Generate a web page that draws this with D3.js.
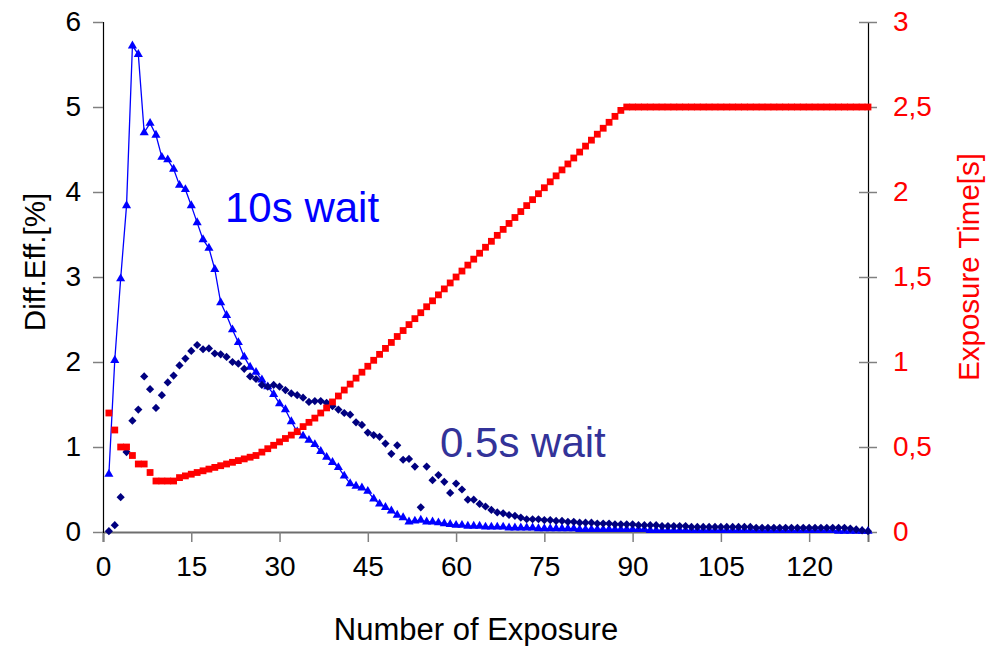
<!DOCTYPE html>
<html>
<head>
<meta charset="utf-8">
<script src="https://cdn.jsdelivr.net/npm/d3@7"></script>
<style>
  html, body { margin: 0; padding: 0; background: #fff; }
  svg { display: block; font-family: "Liberation Sans", Arial, sans-serif; }
</style>
</head>
<body>
<svg id="chart" width="987" height="646"></svg>
<script>
// ---------- DATA ----------
const exposureNumbers = d3.range(1, 131); // 1..130 exposures

const wait10s = [
  0.68, 2.02, 2.98, 3.84, 5.72, 5.62, 4.70, 4.81, 4.67, 4.41,
  4.38, 4.27, 4.08, 4.03, 3.84, 3.64, 3.44, 3.34, 3.09, 2.70,
  2.55, 2.38, 2.23, 2.06, 1.94, 1.88, 1.79, 1.71, 1.62, 1.51,
  1.44, 1.30, 1.18, 1.13, 1.08, 1.03, 0.95, 0.88, 0.82, 0.76,
  0.66, 0.57, 0.54, 0.52, 0.48, 0.39, 0.33, 0.29, 0.25, 0.20,
  0.17, 0.12, 0.13, 0.14, 0.12, 0.12, 0.11, 0.10, 0.09, 0.08,
  0.08, 0.07, 0.07, 0.07, 0.06, 0.06, 0.06, 0.06, 0.05, 0.05,
  0.05, 0.05, 0.05, 0.04, 0.04, 0.04, 0.04, 0.04, 0.04, 0.04,
  0.03, 0.03, 0.03, 0.03, 0.03, 0.03, 0.03, 0.03, 0.03, 0.03,
  0.03, 0.03, 0.02, 0.02, 0.02, 0.02, 0.02, 0.02, 0.02, 0.02,
  0.02, 0.02, 0.02, 0.02, 0.02, 0.02, 0.02, 0.02, 0.02, 0.02,
  0.02, 0.02, 0.02, 0.02, 0.02, 0.02, 0.02, 0.02, 0.02, 0.02,
  0.02, 0.02, 0.02, 0.02, 0.01, 0.01, 0.01, 0.01, 0.01, 0.01
];

const wait05s = [
  0.01, 0.08, 0.41, 0.94, 1.31, 1.44, 1.83, 1.68, 1.46, 1.61,
  1.76, 1.84, 1.96, 2.04, 2.13, 2.20, 2.15, 2.16, 2.10, 2.09,
  2.06, 2.00, 1.98, 1.92, 1.83, 1.80, 1.73, 1.71, 1.73, 1.71,
  1.67, 1.63, 1.61, 1.58, 1.53, 1.54, 1.54, 1.52, 1.48, 1.44,
  1.40, 1.38, 1.29, 1.26, 1.17, 1.14, 1.12, 1.04, 0.92, 1.02,
  0.85, 0.86, 0.77, 0.29, 0.77, 0.61, 0.67, 0.59, 0.46, 0.57,
  0.50, 0.38, 0.38, 0.33, 0.30, 0.26, 0.23, 0.22, 0.20, 0.19,
  0.17, 0.15, 0.15, 0.15, 0.14, 0.14, 0.13, 0.13, 0.12, 0.12,
  0.11, 0.11, 0.11, 0.10, 0.10, 0.10, 0.09, 0.09, 0.09, 0.09,
  0.08, 0.08, 0.08, 0.08, 0.07, 0.07, 0.07, 0.07, 0.07, 0.06,
  0.06, 0.06, 0.06, 0.06, 0.06, 0.06, 0.06, 0.06, 0.06, 0.06,
  0.05, 0.05, 0.05, 0.05, 0.05, 0.05, 0.05, 0.05, 0.05, 0.05,
  0.05, 0.05, 0.05, 0.05, 0.05, 0.05, 0.04, 0.03, 0.02, 0.01
];

const exposureTime = [
  0.70, 0.60, 0.50, 0.50, 0.45, 0.40, 0.40, 0.35, 0.30, 0.30,
  0.30, 0.30, 0.32, 0.33, 0.34, 0.35, 0.36, 0.37, 0.38, 0.39,
  0.40, 0.41, 0.42, 0.43, 0.44, 0.45, 0.47, 0.49, 0.51, 0.53,
  0.55, 0.57, 0.59, 0.62, 0.645, 0.67, 0.70, 0.73, 0.765, 0.80,
  0.835, 0.87, 0.905, 0.94, 0.975, 1.01, 1.045, 1.08, 1.115, 1.15,
  1.185, 1.22, 1.255, 1.29, 1.325, 1.36, 1.395, 1.43, 1.465, 1.50,
  1.535, 1.57, 1.605, 1.64, 1.675, 1.71, 1.745, 1.78, 1.815, 1.85,
  1.885, 1.92, 1.955, 1.99, 2.025, 2.06, 2.095, 2.13, 2.165, 2.20,
  2.235, 2.27, 2.305, 2.34, 2.375, 2.41, 2.445, 2.48, 2.50, 2.50,
  2.50, 2.50, 2.50, 2.50, 2.50, 2.50, 2.50, 2.50, 2.50, 2.50,
  2.50, 2.50, 2.50, 2.50, 2.50, 2.50, 2.50, 2.50, 2.50, 2.50,
  2.50, 2.50, 2.50, 2.50, 2.50, 2.50, 2.50, 2.50, 2.50, 2.50,
  2.50, 2.50, 2.50, 2.50, 2.50, 2.50, 2.50, 2.50, 2.50, 2.50
];

const xTicks = [0, 15, 30, 45, 60, 75, 90, 105, 120];
const yLeftTicks = [0, 1, 2, 3, 4, 5, 6];
const yRightTicks = [0, 0.5, 1, 1.5, 2, 2.5, 3];
const yRightTickLabels = ["0", "0,5", "1", "1,5", "2", "2,5", "3"];

// ---------- LAYOUT ----------
const svg = d3.select("#chart");
const plotLeft = 103, plotRight = 868, plotTop = 22, plotBottom = 532;

const x = d3.scaleLinear().domain([0, 130]).range([plotLeft, plotRight]);
const yL = d3.scaleLinear().domain([0, 6]).range([plotBottom, plotTop]);
const yR = d3.scaleLinear().domain([0, 3]).range([plotBottom, plotTop]);

const fontSize = 28;
const FONT = "Liberation Sans, Arial, sans-serif";

// X axis
const xAxis = d3.axisBottom(x).tickValues(xTicks).tickSize(10).tickPadding(14).tickFormat(d3.format("d"));
const gx = svg.append("g").attr("transform", `translate(0,${plotBottom})`).call(xAxis);
gx.select(".domain").attr("stroke", "#6e6e6e").attr("stroke-width", 2);
gx.selectAll(".tick line").attr("stroke", "#808080").attr("stroke-width", 1.5);
gx.selectAll(".tick text").attr("font-size", fontSize).attr("fill", "#000").attr("font-family", FONT);

// Left Y axis
const yAxisL = d3.axisLeft(yL).tickValues(yLeftTicks).tickSize(10).tickPadding(12).tickFormat(d3.format("d"));
const gyl = svg.append("g").attr("transform", `translate(${plotLeft},0)`).call(yAxisL);
gyl.select(".domain").attr("stroke", "#000").attr("stroke-width", 1.2);
gyl.selectAll(".tick line").attr("stroke", "#808080").attr("stroke-width", 1.5);
gyl.selectAll(".tick text").attr("font-size", fontSize).attr("fill", "#000").attr("font-family", FONT);

// Right Y axis (ticks cross the axis line)
const yAxisR = d3.axisRight(yR).tickValues(yRightTicks).tickSize(9).tickPadding(16)
  .tickFormat((d, i) => yRightTickLabels[i]);
const gyr = svg.append("g").attr("transform", `translate(${plotRight},0)`).call(yAxisR);
gyr.select(".domain").attr("stroke", "#000").attr("stroke-width", 1.2);
gyr.selectAll(".tick line").attr("x1", -9).attr("stroke", "#808080").attr("stroke-width", 1.5);
gyr.selectAll(".tick text").attr("font-size", fontSize).attr("fill", "#ff0000").attr("font-family", FONT);

// Axis titles
svg.append("text")
  .attr("transform", `translate(34,262) rotate(-90)`)
  .attr("text-anchor", "middle").attr("dominant-baseline", "central")
  .attr("font-size", 29.5).attr("fill", "#000").text("Diff.Eff.[%]");

svg.append("text")
  .attr("transform", `translate(968,267) rotate(-90)`)
  .attr("text-anchor", "middle").attr("dominant-baseline", "central")
  .attr("font-size", 29.5).attr("fill", "#ff0000").text("Exposure Time[s]");

svg.append("text")
  .attr("x", 476).attr("y", 640)
  .attr("text-anchor", "middle")
  .attr("font-size", 31).attr("fill", "#000").text("Number of Exposure");

// ---------- SERIES ----------
const data10 = exposureNumbers.map((n, i) => ({ n, v: wait10s[i] }));
const data05 = exposureNumbers.map((n, i) => ({ n, v: wait05s[i] }));
const dataT = exposureNumbers.map((n, i) => ({ n, v: exposureTime[i] }));

// 10s wait: line + triangles
svg.append("path")
  .datum(data10)
  .attr("fill", "none").attr("stroke", "#0000ff").attr("stroke-width", 1.3)
  .attr("d", d3.line().x(d => x(d.n)).y(d => yL(d.v)));

const tri = d3.symbol().type(d3.symbolTriangle).size(36);
svg.append("g").selectAll("path")
  .data(data10).join("path")
  .attr("d", tri)
  .attr("transform", d => `translate(${x(d.n)},${yL(d.v)})`)
  .attr("fill", "#0000ff");

// 0.5s wait: diamonds
svg.append("g").selectAll("rect")
  .data(data05).join("rect")
  .attr("x", -2.9).attr("y", -2.9).attr("width", 5.8).attr("height", 5.8)
  .attr("transform", d => `translate(${x(d.n)},${yL(d.v)}) rotate(45)`)
  .attr("fill", "#000080");

// Exposure time: red squares (right axis)
svg.append("g").selectAll("rect")
  .data(dataT).join("rect")
  .attr("x", -3.4).attr("y", -3.4).attr("width", 6.8).attr("height", 6.8)
  .attr("transform", d => `translate(${x(d.n)},${yR(d.v)})`)
  .attr("fill", "#ff0000");

// Annotations
svg.append("text").attr("x", 225).attr("y", 222)
  .attr("font-size", 42).attr("fill", "#0000ff").text("10s wait");
svg.append("text").attr("x", 440).attr("y", 457)
  .attr("font-size", 42).attr("fill", "#333399").text("0.5s wait");
</script>
</body>
</html>
